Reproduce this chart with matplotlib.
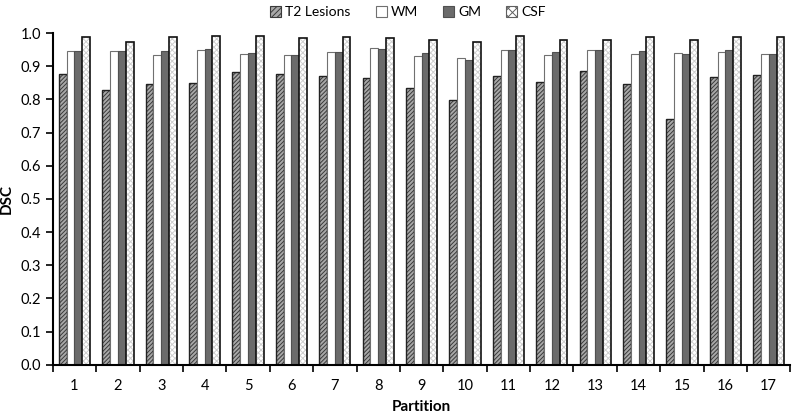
import matplotlib.pyplot as plt
import numpy as np
from matplotlib.patches import Patch

# Werte
partitions = [str(i) for i in range(1, 18)]
t2_lesions = [0.876, 0.828, 0.845, 0.848, 0.882, 0.877, 0.870, 0.865, 0.833,
              0.797, 0.870, 0.852, 0.885, 0.845, 0.740, 0.868, 0.873]
wm = [0.945, 0.945, 0.935, 0.950, 0.937, 0.933, 0.943, 0.955, 0.932,
      0.925, 0.948, 0.933, 0.950, 0.938, 0.940, 0.943, 0.937]
gm = [0.947, 0.945, 0.945, 0.953, 0.940, 0.935, 0.943, 0.953, 0.940,
      0.920, 0.950, 0.943, 0.950, 0.945, 0.937, 0.950, 0.937]
csf = [0.988, 0.972, 0.988, 0.990, 0.990, 0.985, 0.987, 0.985, 0.978,
       0.972, 0.990, 0.980, 0.980, 0.987, 0.980, 0.988, 0.987]

plt.rcParams['font.family'] = ['Lato', 'DejaVu Sans']
plt.rcParams['hatch.linewidth'] = 0.7

fig = plt.figure(figsize=(8, 4.13), dpi=100)
ax = fig.add_axes([0.066, 0.117, 0.922, 0.803])

x = np.arange(len(partitions))
w = 0.18
offs = [-1.5 * w, -0.5 * w, 0.5 * w, 1.5 * w]

# T2 Lesions: dichte Schraffur
ax.bar(x + offs[0], t2_lesions, w, color='#a8a8a8', edgecolor='#3a3a3a',
       hatch='////////', linewidth=0)
ax.bar(x + offs[0], t2_lesions, w, fill=False, edgecolor='#222222', linewidth=1.0)
# WM: weiss
ax.bar(x + offs[1], wm, w, color='white', edgecolor='#707070', linewidth=0.8)
# GM: dunkelgrau
ax.bar(x + offs[2], gm, w, color='#6b6b6b', edgecolor='#505050', linewidth=0.8)
# CSF: hell gepunktet
ax.bar(x + offs[3], csf, w, color='white', edgecolor='#cfcfcf',
       hatch='xxxxxx', linewidth=0)
ax.bar(x + offs[3], csf, w, fill=False, edgecolor='#111111', linewidth=1.2)

# Legende
handles = [
    Patch(facecolor='#a8a8a8', edgecolor='#3a3a3a', hatch='//////', linewidth=0.8),
    Patch(facecolor='white', edgecolor='#707070', linewidth=0.8),
    Patch(facecolor='#6b6b6b', edgecolor='#505050', linewidth=0.8),
    Patch(facecolor='white', edgecolor='#606060', hatch='xxxx', linewidth=0.8),
]
fig.legend(handles, ['T2 Lesions', 'WM', 'GM', 'CSF'], loc='upper center',
           bbox_to_anchor=(0.51, 1.015), ncol=4, frameon=False, fontsize=10,
           handlelength=0.8, handleheight=0.8, handletextpad=0.3, columnspacing=1.8)

ax.set_xlim(-0.5, len(partitions) - 0.5)
ax.set_ylim(0, 1.0)
ax.set_yticks(np.arange(0, 1.01, 0.1))
ax.set_yticklabels(['%.1f' % v for v in np.arange(0, 1.01, 0.1)], fontsize=10.5)
ax.set_xticks(x)
ax.set_xticklabels(partitions, fontsize=10.5)
ax.tick_params(axis='x', length=0, pad=10)
ax.set_xticks(np.arange(-0.5, len(partitions), 1.0), minor=True)
ax.tick_params(axis='x', which='minor', length=5, width=1.2, direction='out')
ax.tick_params(axis='y', length=5, width=1.2, direction='out')
ax.spines['top'].set_visible(False)
ax.spines['right'].set_visible(False)
ax.spines['left'].set_linewidth(1.5)
ax.spines['bottom'].set_linewidth(1.5)

ax.set_xlabel('Partition', fontsize=11, fontweight='bold', labelpad=5)
ax.set_ylabel('DSC', fontsize=11, fontweight='bold', labelpad=5)

fig.savefig('out.png', dpi=100)
